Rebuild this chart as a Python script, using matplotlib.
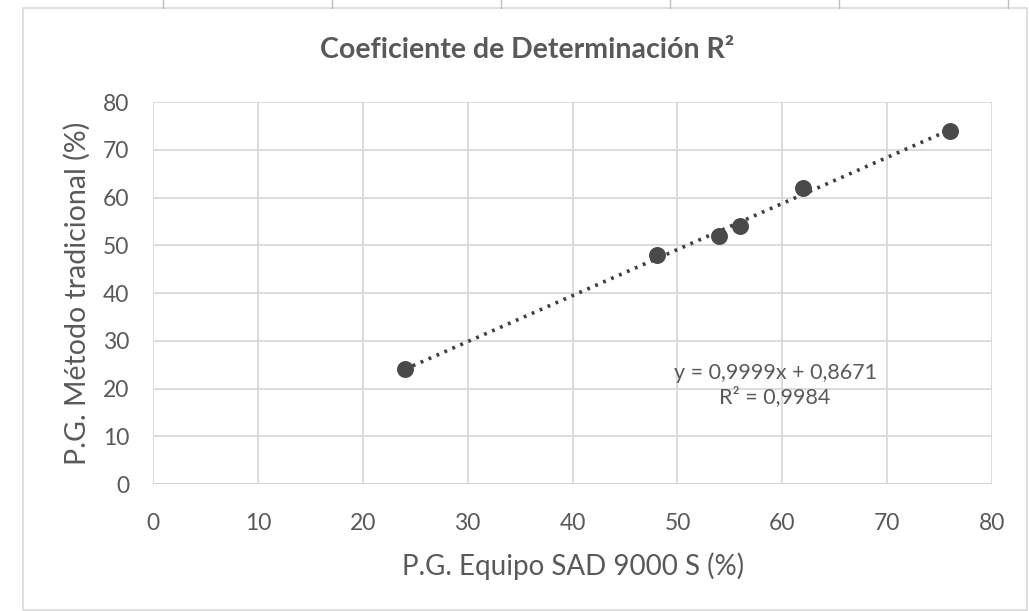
import numpy as np
import matplotlib.pyplot as plt
from matplotlib.patches import Rectangle
from matplotlib.lines import Line2D

# datos
equipo = [24, 48, 54, 56, 62, 76]          # P.G. Equipo SAD 9000 S (%)
tradicional = [24, 48, 52, 54, 62, 74]     # P.G. Metodo tradicional (%)
ticks = [0, 10, 20, 30, 40, 50, 60, 70, 80]
ecuacion = "y = 0,9999x + 0,8671\nR² = 0,9984"

gris = '#595959'
plt.rcParams['font.family'] = ['Lato', 'DejaVu Sans']

fig = plt.figure(figsize=(10.29, 6.11), dpi=100)
ax = fig.add_axes([0.1487, 0.2078, 0.8155, 0.6252])

# borde del grafico y lineas de celdas arriba
fig.patches.append(Rectangle((23 / 1029, 1 - 610 / 611), 1004 / 1029, 602 / 611,
                             transform=fig.transFigure, fill=False,
                             edgecolor='#d9d9d9', linewidth=1.2))
for xc in [163, 332, 501, 670, 839, 1008]:
    fig.lines.append(Line2D([xc / 1029, xc / 1029], [1 - 8 / 611, 1.0],
                            transform=fig.transFigure, color='#bfbfbf', linewidth=1))

# linea de tendencia
a, b = np.polyfit(equipo, tradicional, 1)
xt = np.array([min(equipo), max(equipo)])
ax.plot(xt, a * xt + b, linestyle=(0, (0.8, 1.6)), color='#404040', linewidth=2.6,
        zorder=3)

ax.scatter(equipo, tradicional, s=125, color='#4a4a4a', zorder=4)

ax.text(59.3, 20.8, ecuacion, ha='center', va='center', fontsize=15.5,
        color=gris, linespacing=1.2)

ax.set_xlim(0, 80)
ax.set_ylim(0, 80)
ax.set_xticks(ticks)
ax.set_yticks(ticks)
ax.grid(True, color='#d9d9d9', linewidth=1.3)
ax.set_axisbelow(True)
for s in ax.spines.values():
    s.set_visible(False)
ax.axhline(0, color='#d0d0d0', linewidth=1.3, zorder=1)
ax.tick_params(length=0, labelsize=16.5, labelcolor=gris)
ax.tick_params(axis='x', pad=21)
ax.tick_params(axis='y', pad=17)

ax.set_xlabel('P.G. Equipo SAD 9000 S (%)', fontsize=20, color=gris, labelpad=13)
ax.set_ylabel('P.G. Método tradicional (%)', fontsize=20.5, color=gris, labelpad=9)
fig.text(527 / 1029, 1 - 50 / 611, 'Coeficiente de Determinación R²', fontsize=20.5,
         fontweight='bold', color=gris, ha='center', va='center')

fig.savefig('out.png', dpi=100)
